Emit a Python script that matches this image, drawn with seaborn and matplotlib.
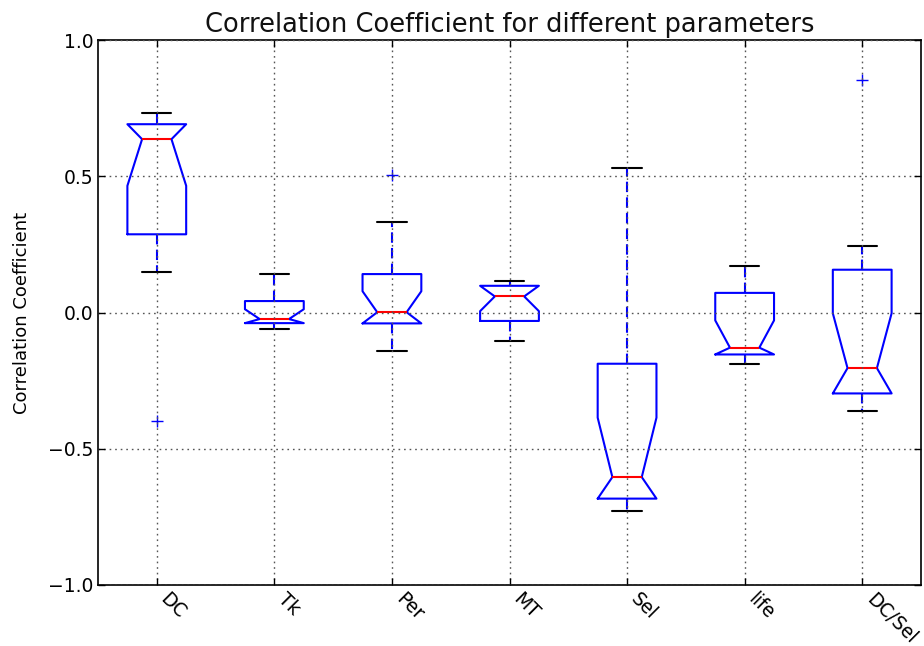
import matplotlib
matplotlib.use("Agg")
import matplotlib.pyplot as plt
import pandas as pd
import seaborn as sns

# ---- data ----
categories = ["DC", "Tk", "Per", "MT", "Sel", "life", "DC/Sel"]
whisker_low = [0.150, -0.062, -0.141, -0.106, -0.728, -0.188, -0.361]
q1_values = [0.287, -0.039, -0.040, -0.031, -0.683, -0.154, -0.297]
medians = [0.636, -0.024, 0.001, 0.059, -0.604, -0.129, -0.204]
q3_values = [0.691, 0.042, 0.141, 0.098, -0.188, 0.072, 0.157]
whisker_high = [0.731, 0.141, 0.331, 0.117, 0.531, 0.169, 0.243]
notch_low = [0.465, -0.039, -0.040, 0.005, -0.683, -0.154, -0.297]
notch_high = [0.691, 0.012, 0.078, 0.098, -0.386, -0.029, -0.003]
outliers = [[-0.397], [], [0.505], [], [], [], [0.854]]
y_ticks = [-1.0, -0.5, 0.0, 0.5, 1.0]

# summary statistics table for the box drawer
box_stats = [
    dict(label=c, whislo=wl, q1=a, med=m, q3=b, whishi=wh,
         cilo=nl, cihi=nh, fliers=f)
    for c, wl, a, m, b, wh, nl, nh, f in zip(
        categories, whisker_low, q1_values, medians, q3_values,
        whisker_high, notch_low, notch_high, outliers)
]
df = pd.DataFrame({"parameter": categories, "value": medians})

sns.set_theme(style="white", rc={
    "axes.edgecolor": "black",
    "axes.linewidth": 1.2,
    "xtick.direction": "in",
    "ytick.direction": "in",
    "xtick.top": True,
    "ytick.right": True,
    "xtick.bottom": True,
    "ytick.left": True,
    "xtick.major.size": 5,
    "ytick.major.size": 5,
    "xtick.major.width": 1.0,
    "ytick.major.width": 1.0,
    "xtick.color": "black",
    "ytick.color": "black",
    "text.color": "black",
    "axes.labelcolor": "black",
})
plt.rcParams["font.family"] = ["DejaVu Sans"]

fig = plt.figure(figsize=(9.24, 6.46), dpi=100)
ax = fig.add_axes([98 / 924, 1 - 585 / 646, (921 - 98) / 924, (585 - 40) / 646])

sns.boxplot(
    data=df, x="parameter", y="value", order=categories, ax=ax,
    width=0.5, fill=False, linecolor="blue", linewidth=1.5,
    shownotches=True, bxpstats=box_stats,
    boxprops=dict(color="blue", linewidth=1.5),
    medianprops=dict(color="red", linewidth=1.5),
    whiskerprops=dict(color="blue", linewidth=1.5, linestyle=(0, (5, 2.5))),
    capprops=dict(color="black", linewidth=1.5),
    flierprops=dict(marker="+", markeredgecolor="blue", markerfacecolor="blue",
                    markersize=9, markeredgewidth=1.0, linestyle="none"),
)

ax.set_ylim(-1.0, 1.0)
ax.set_xlim(-0.5, len(categories) - 0.5)
ax.set_yticks(y_ticks)
ax.set_xticks(range(len(categories)))
ax.set_xticklabels(categories, rotation=-45, ha="left", rotation_mode="default")
ax.tick_params(axis="both", labelsize=13.5)
ax.grid(True, which="major", axis="both", color="#555555",
        linestyle=(0, (1.2, 2.8)), linewidth=1.0)
ax.set_axisbelow(False)
for s in ax.spines.values():
    s.set_visible(True)
    s.set_color("black")
ax.set_xlabel("")
ax.set_ylabel("Correlation Coefficient", fontsize=13, labelpad=12)
ax.set_title("Correlation Coefficient for different parameters", fontsize=18.5,
             pad=6, color="#111111")

fig.savefig("out.png", dpi=100)
